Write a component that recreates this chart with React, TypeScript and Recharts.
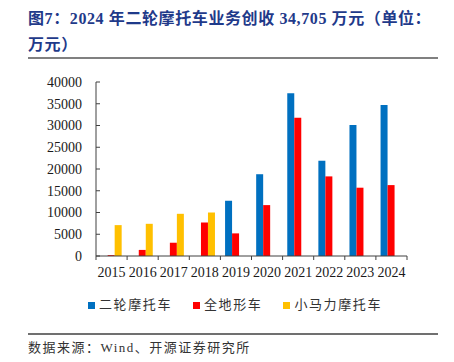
import { Bar, BarChart, XAxis, YAxis } from "recharts";

const YEARS = ["2015", "2016", "2017", "2018", "2019", "2020", "2021", "2022", "2023", "2024"];
// 二轮摩托车 (万元)
const MOTO = [null, null, null, null, 12700, 18800, 37400, 21900, 30100, 34705];
// 全地形车 (万元)
const ATV = [200, 1400, 3050, 7700, 5200, 11700, 31800, 18300, 15700, 16300];
// 小马力摩托车 (万元)
const SMALL = [7100, 7400, 9700, 10000, null, null, null, null, null, null];
const Y_TICKS = [0, 5000, 10000, 15000, 20000, 25000, 30000, 35000, 40000];

const SERIES = [
  { key: "moto", name: "二轮摩托车", color: "#0070C0" },
  { key: "atv", name: "全地形车", color: "#FF0000" },
  { key: "small", name: "小马力摩托车", color: "#FFC000" },
];

const data = YEARS.map((year, i) => ({
  year,
  moto: MOTO[i],
  atv: ATV[i],
  small: SMALL[i],
}));

const SERIF = '"Times New Roman", "Liberation Serif", serif';
const CJK = '"Liberation Serif", "Noto Sans CJK SC", sans-serif';

// 类目轴：标签居中，刻度线画在类目边界
function YearTick(props: any) {
  const { x, y, payload, index } = props;
  const half = payload.offset ?? 0;
  return (
    <g>
      <line x1={x - half} x2={x - half} y1={y} y2={y + 4} stroke="#404040" />
      {index === YEARS.length - 1 && (
        <line x1={x + half} x2={x + half} y1={y} y2={y + 4} stroke="#404040" />
      )}
      <text
        x={x}
        y={y + 21}
        textAnchor="middle"
        fontSize={14}
        fontFamily={SERIF}
        fill="#1a1a1a"
      >
        {payload.value}
      </text>
    </g>
  );
}

export default function App() {
  return (
    <div
      style={{
        position: "absolute",
        left: 0,
        top: 0,
        width: 454,
        height: 362,
        background: "#fff",
        overflow: "hidden",
      }}
    >
      <div
        style={{
          position: "absolute",
          left: 28,
          top: 6,
          width: 420,
          fontFamily: CJK,
          fontWeight: "bold",
          fontSize: 16,
          lineHeight: "26px",
          letterSpacing: 0.6,
          color: "#1F3A8A",
          whiteSpace: "nowrap",
        }}
      >
        <div>图7：2024 年二轮摩托车业务创收 34,705 万元（单位：</div>
        <div>万元）</div>
      </div>
      <div
        style={{
          position: "absolute",
          left: 28,
          top: 57,
          width: 410,
          height: 1.5,
          background: "#808080",
        }}
      />

      <div style={{ position: "absolute", left: 0, top: 74 }}>
        <BarChart
          width={454}
          height={246}
          data={data}
          margin={{ top: 8, right: 47, left: 0, bottom: 34 }}
          barCategoryGap="15%"
          barGap={0}
        >
          <XAxis
            dataKey="year"
            axisLine={{ stroke: "#404040" }}
            tickLine={false}
            tickSize={0}
            tickMargin={0}
            height={30}
            interval={0}
            tick={<YearTick />}
          />
          <YAxis
            width={96}
            domain={[0, 40000]}
            ticks={Y_TICKS}
            interval={0}
            axisLine={{ stroke: "#404040" }}
            tickLine={{ stroke: "#404040" }}
            tickSize={-4}
            tickMargin={18}
            tick={{ fontSize: 14, fontFamily: SERIF, fill: "#1a1a1a" }}
          />
          {SERIES.map((s) => (
            <Bar
              key={s.key}
              dataKey={s.key}
              name={s.name}
              fill={s.color}
              isAnimationActive={false}
            />
          ))}
        </BarChart>
      </div>

      <div
        style={{
          position: "absolute",
          left: 0,
          top: 296,
          width: 454,
          paddingLeft: 16,
          boxSizing: "border-box",
          display: "flex",
          justifyContent: "center",
          gap: 21,
          fontFamily: CJK,
          fontSize: 13,
          letterSpacing: 1.6,
          color: "#333",
          lineHeight: "18px",
        }}
      >
        {SERIES.map((s) => (
          <div key={s.key} style={{ display: "flex", alignItems: "center" }}>
            <span
              style={{
                display: "inline-block",
                width: 7,
                height: 7,
                background: s.color,
                marginRight: 4,
              }}
            />
            <span>{s.name}</span>
          </div>
        ))}
      </div>

      <div
        style={{
          position: "absolute",
          left: 28,
          top: 333,
          width: 410,
          height: 1.5,
          background: "#707070",
        }}
      />
      <div
        style={{
          position: "absolute",
          left: 28,
          top: 339,
          fontFamily: CJK,
          fontSize: 13,
          letterSpacing: 1.5,
          color: "#333",
          lineHeight: "18px",
          whiteSpace: "nowrap",
        }}
      >
        数据来源：Wind、开源证券研究所
      </div>
    </div>
  );
}
